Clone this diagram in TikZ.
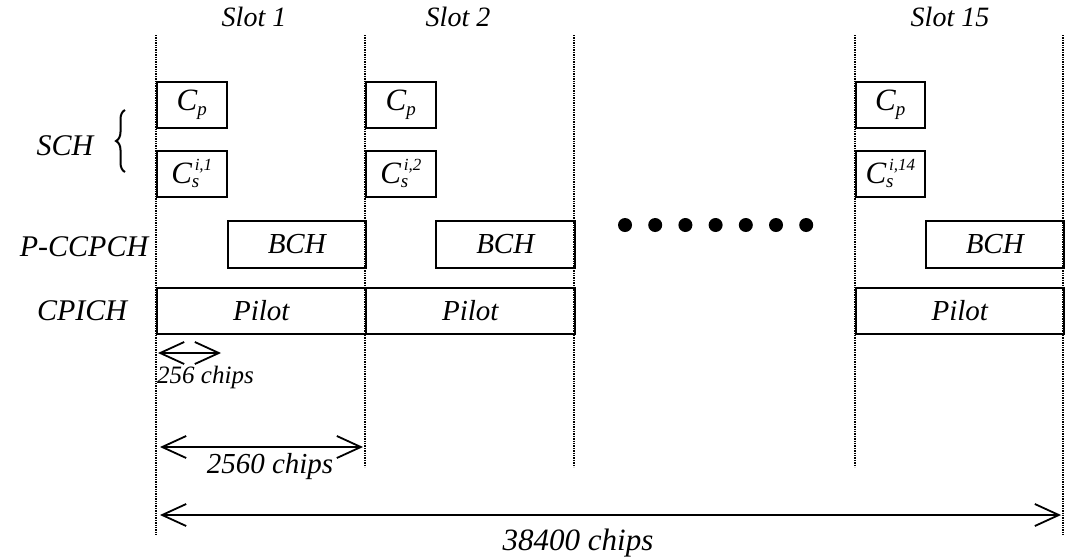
\documentclass[tikz,border=0pt]{standalone}
\usepackage{fontspec}
\setmainfont{Liberation Serif}
\usetikzlibrary{arrows.meta,decorations.pathreplacing}
\newcommand{\subsz}{\fontsize{19}{19}\selectfont}
\newcommand{\Cp}{{\fontsize{31}{34}\selectfont C}\raisebox{-5pt}{\subsz p}}
\newcommand{\Cs}[1]{{\fontsize{31}{34}\selectfont C}\rlap{\raisebox{-4pt}{\subsz s}}\raisebox{13pt}{\fontsize{17}{17}\selectfont\,#1}}
\begin{document}
\begin{tikzpicture}[x=1pt,y=-1pt,
  txt/.style={font=\fontsize{28}{32}\selectfont\itshape,inner sep=0pt},
  side/.style={font=\fontsize{30}{34}\selectfont\itshape,inner sep=0pt},
  box/.style={draw,line width=1.5pt,inner sep=0pt,anchor=north west,font=\fontsize{29}{33}\selectfont\itshape},
  vline/.style={line width=1.3pt,dash pattern=on 1.3pt off 1.1pt},
  dim/.style={line width=1.8pt,{Straight Barb[length=24pt,width=22pt,line width=1.8pt]}-{Straight Barb[length=24pt,width=22pt,line width=1.8pt]}},
  dotc/.style={fill=black,draw=none}]
\useasboundingbox (0,0) rectangle (1067,558);

% slot boundary coordinates
\coordinate (t0) at (156,35);  \coordinate (b0) at (156,535);
\coordinate (t1) at (365,35);  \coordinate (b1) at (365,467);
\coordinate (t2) at (574,35);  \coordinate (b2) at (574,467);
\coordinate (t3) at (855,35);  \coordinate (b3) at (855,467);
\coordinate (t4) at (1063,35); \coordinate (b4) at (1063,535);
\foreach \i in {0,...,4} \draw[vline] (t\i) -- (b\i);

% slot labels
\node[txt] (s1) at (254,17) {Slot 1};
\node[txt] (s2) at (458,17) {Slot 2};
\node[txt] (s15) at (950,17) {Slot 15};

% channel labels
\node[side] (sch) at (65,146) {SCH};
\node[side] (pcc) at (84,247) {P-CCPCH};
\node[side] (cpi) at (82,311) {CPICH};
\draw[line width=2pt,decorate,decoration={brace,amplitude=9pt}] (125,172) -- (125,110);

% SCH boxes
\node[box,minimum width=70pt,minimum height=46pt] (cp1) at (156,81) {\Cp};
\node[box,minimum width=70pt,minimum height=46pt] (cp2) at (365,81) {\Cp};
\node[box,minimum width=69pt,minimum height=46pt] (cp3) at (855,81) {\Cp};
\node[box,minimum width=70pt,minimum height=46pt] (cs1) at (156,150) {\Cs{i,1}};
\node[box,minimum width=70pt,minimum height=46pt] (cs2) at (365,150) {\Cs{i,2}};
\node[box,minimum width=69pt,minimum height=46pt] (cs3) at (855,150) {\Cs{i,14}};

% BCH boxes
\node[box,minimum width=138pt,minimum height=47pt] (bch1) at (227,220) {BCH};
\node[box,minimum width=139pt,minimum height=47pt] (bch2) at (435,220) {BCH};
\node[box,minimum width=138pt,minimum height=47pt] (bch3) at (925,220) {BCH};

% Pilot boxes
\node[box,minimum width=209pt,minimum height=46pt] (pil1) at (156,287) {Pilot};
\node[box,minimum width=209pt,minimum height=46pt] (pil2) at (365,287) {Pilot};
\node[box,minimum width=208pt,minimum height=46pt] (pil3) at (855,287) {Pilot};

% ellipsis dots
\foreach \k in {0,...,6} \fill[dotc] (625+30.2*\k,225) circle (7pt);

% dimension arrows
\coordinate (a1l) at (158,353); \coordinate (a1r) at (221,353);
\draw[dim] (a1l) -- (a1r);
\node[txt,font=\fontsize{25}{28}\selectfont\itshape,anchor=base west] (l256) at (157,383) {256 chips};

\coordinate (a2l) at (160,447); \coordinate (a2r) at (363,447);
\draw[dim] (a2l) -- (a2r);
\node[txt,font=\fontsize{29}{33}\selectfont\itshape] (l2560) at (270,467) {2560 chips};

\coordinate (a3l) at (160,515); \coordinate (a3r) at (1061,515);
\draw[dim] (a3l) -- (a3r);
\node[txt,font=\fontsize{31}{35}\selectfont\itshape] (l38400) at (578,543) {38400 chips};
\end{tikzpicture}
\end{document}
